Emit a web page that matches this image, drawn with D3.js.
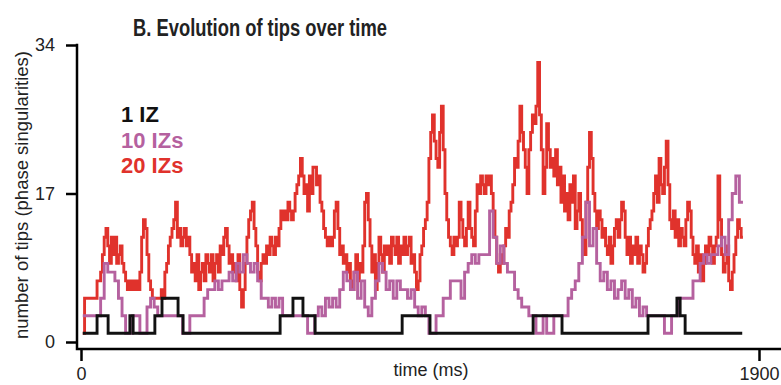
<!DOCTYPE html>
<html>
<head>
<meta charset="utf-8">
<script src="https://cdn.jsdelivr.net/npm/d3@7"></script>
<style>
  body { margin: 0; background: #fff; }
  svg { display: block; font-family: "Liberation Sans", Arial, sans-serif; }
</style>
</head>
<body>
<div id="chart"></div>
<script>
const Width = 781
const Height = 385

const xTicks = [0, 1900]
const yTicks = [0, 17, 34]
const seriesNames = ['1 IZ', '10 IZs', '20 IZs']

// 1 IZ: change points (ms) and the count from that time on
const blackTimes = [5, 45, 76, 137, 146, 207, 227, 272, 286, 558, 594, 622, 656, 900, 978, 1267, 1348, 1589, 1670, 1679, 1693, 1853]
const blackValues = [1, 3, 1, 3, 1, 3, 5, 3, 1, 3, 5, 3, 1, 3, 1, 3, 1, 3, 5, 3, 1, 1]

// 10 IZs: one value every 10 ms, from 5 ms
const purpleValues = [
  3,3,3,3,3,5,9,8,8,7,  5,3,1,1,3,3,1,1,4,5,  4,3,3,3,3,3,3,3,1,1,  3,3,3,3,5,6,6,7,6,7,
  7,8,7,9,8,10,9,8,9,7,  5,5,4,5,4,5,3,3,3,3,  3,3,3,1,1,3,4,3,5,4,  5,4,6,8,7,6,8,5,7,4,
  3,5,7,9,8,6,7,5,7,6,  6,5,6,4,3,4,3,1,1,3,  3,5,5,7,7,7,5,8,9,10,  9,10,10,10,15,12,9,11,9,8,
  8,6,5,4,4,3,3,1,1,3,  1,1,3,3,3,3,5,6,7,9,  12,16,11,13,9,7,8,6,7,5,  6,7,5,6,4,5,3,4,3,3,
  3,3,3,1,1,3,3,5,5,5,  5,7,7,9,10,9,10,10,11,12,  10,14,17,19,16
]

// 20 IZs: one value every 5 ms, from 5 ms
const redValues = [
  1,5,5,5,5,5,5,5,7,7,  8,10,12,13,11,9,12,10,12,9,  10,11,9,8,7,6,7,6,7,6,  7,6,8,12,14,13,10,7,6,5,
  5,5,5,5,6,5,8,9,11,12,  13,14,16,12,13,11,12,13,11,12,  10,8,9,7,10,6,8,9,7,10,  9,8,10,7,9,10,8,11,10,12,
  13,11,9,10,8,9,7,10,6,4,  6,9,12,14,15,16,13,11,8,7,  9,10,9,11,10,12,11,10,12,11,  13,15,14,15,14,16,15,14,15,17,
  18,19,21,19,17,18,15,19,17,20,  20,18,19,16,15,13,12,11,12,11,  12,15,16,13,10,11,9,10,8,9,  7,6,8,10,7,9,8,11,16,17,
  14,11,8,10,6,9,12,10,8,11,  10,11,9,12,11,10,12,9,11,10,  12,10,11,12,9,10,8,6,7,10,  11,13,14,16,21,24,26,23,21,20,
  24,27,22,17,14,12,11,10,12,11,  12,16,14,12,11,13,16,13,12,11,  15,18,17,19,18,17,19,18,19,17,  15,12,9,8,10,9,11,13,12,15,
  16,18,21,20,23,27,24,22,20,17,  22,24,26,25,27,32,26,22,17,20,  25,22,20,21,19,22,18,20,16,19,  15,17,14,18,16,19,13,15,17,14,
  12,10,16,20,24,21,17,15,13,15,  14,12,13,11,10,12,9,11,13,14,  12,14,16,15,12,10,12,9,11,10,  12,9,11,10,8,9,11,13,14,15,
  17,19,16,21,18,17,20,23,18,14,  13,15,12,14,11,13,12,11,14,16,  15,12,10,9,11,8,10,7,9,11,  10,12,11,9,11,12,19,14,10,8,
  9,11,7,6,8,10,12,14,13,12
]

const colors = ['#111111', '#b5619f', '#e0322c']

const svg = d3.select('#chart')
  .append('svg')
  .attr('width', Width)
  .attr('height', Height)

const x = d3.scaleLinear().domain([0, 1900]).range([81, 759])
const y = d3.scaleLinear().domain([0, 34]).range([342, 45])
const axisY = 349
const axisX = 77

// build point lists (last value held until the series end)
const toPoints = (vals, step) => {
  const pts = vals.map((v, i) => ({ t: 5 + i * step, v }))
  pts.push({ t: 5 + vals.length * step, v: vals[vals.length - 1] })
  return pts
}
const blackPts = blackTimes.map((t, i) => ({ t, v: blackValues[i] }))
const purplePts = toPoints(purpleValues, 10)
const redPts = toPoints(redValues, 5)

const line = d3.line()
  .x(d => x(d.t))
  .y(d => y(d.v))
  .curve(d3.curveStepAfter)

const series = [redPts, purplePts, blackPts]
const seriesColor = [colors[2], colors[1], colors[0]]

svg.selectAll('path.series')
  .data(series)
  .enter().append('path')
  .attr('class', 'series')
  .attr('d', line)
  .attr('fill', 'none')
  .attr('stroke', (d, i) => seriesColor[i])
  .attr('stroke-width', 2.9)

// axes
const yAxisCall = d3.axisLeft(y).tickValues(yTicks).tickSize(11).tickPadding(11).tickSizeOuter(0)
svg.append('g')
  .attr('transform', `translate(${axisX},0)`)
  .call(yAxisCall)
  .call(g => g.select('.domain').remove())

const xAxisCall = d3.axisBottom(x).tickValues(xTicks).tickFormat(d3.format('d'))
  .tickSize(12).tickPadding(6).tickSizeOuter(0)
svg.append('g')
  .attr('transform', `translate(0,${axisY})`)
  .call(xAxisCall)
  .call(g => g.select('.domain').remove())

svg.selectAll('.tick line').attr('stroke', '#000').attr('stroke-width', 2.5)
svg.selectAll('.tick text')
  .attr('fill', '#222')
  .style('font-size', '18px')
  .style('font-family', '"Liberation Sans", Arial, sans-serif')

svg.append('path')
  .attr('d', `M${axisX},${y(34) - 1.2}V${axisY}H${Width}`)
  .attr('fill', 'none')
  .attr('stroke', '#000')
  .attr('stroke-width', 2.5)

// labels
svg.append('text')
  .attr('x', 260)
  .attr('y', 36)
  .attr('text-anchor', 'middle')
  .attr('textLength', 254)
  .attr('lengthAdjust', 'spacingAndGlyphs')
  .style('font-size', '23px')
  .style('font-weight', 'bold')
  .attr('fill', '#222')
  .text('B. Evolution of tips over time')

svg.append('text')
  .attr('x', 431)
  .attr('y', 376)
  .attr('text-anchor', 'middle')
  .style('font-size', '18px')
  .attr('fill', '#222')
  .text('time (ms)')

svg.append('text')
  .attr('transform', 'translate(28,195) rotate(-90)')
  .attr('text-anchor', 'middle')
  .style('font-size', '18.5px')
  .attr('fill', '#222')
  .text('number of tips (phase singularities)')

svg.selectAll('text.legend')
  .data(seriesNames)
  .enter().append('text')
  .attr('class', 'legend')
  .attr('x', 121)
  .attr('y', (d, i) => 122 + i * 25.5)
  .attr('fill', (d, i) => colors[i])
  .style('font-size', '22px')
  .style('font-weight', 'bold')
  .text(d => d)
</script>
</body>
</html>
